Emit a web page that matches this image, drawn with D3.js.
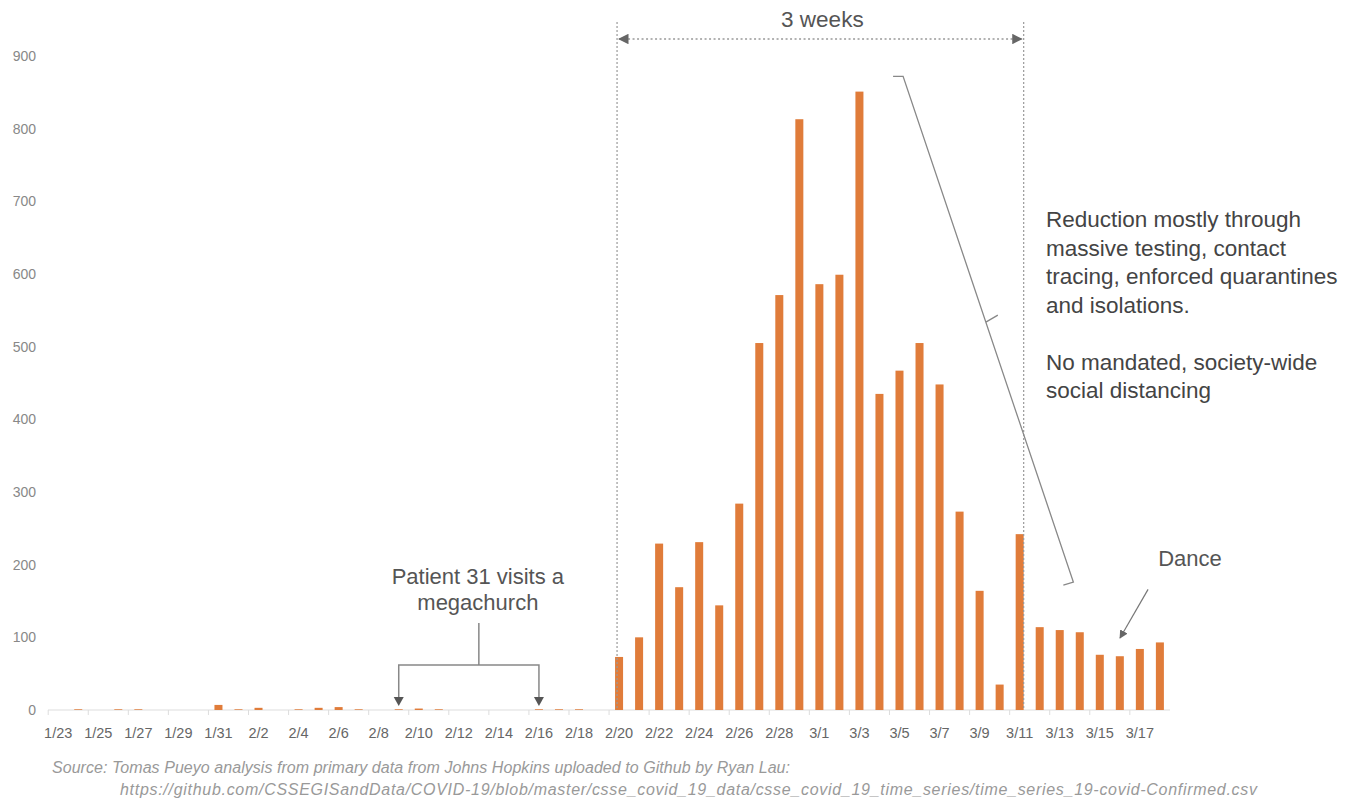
<!DOCTYPE html>
<html>
<head>
<meta charset="utf-8">
<script src="https://cdn.jsdelivr.net/npm/d3@7"></script>
<style>
  body { margin: 0; background: #fff; }
  svg text { font-family: "Liberation Sans", Arial, Helvetica, sans-serif; }
</style>
</head>
<body>
<div id="chart"></div>
<script>
// daily new confirmed cases, South Korea
const dates = ["1/23","1/24","1/25","1/26","1/27","1/28","1/29","1/30","1/31",
  "2/1","2/2","2/3","2/4","2/5","2/6","2/7","2/8","2/9","2/10","2/11","2/12","2/13","2/14",
  "2/15","2/16","2/17","2/18","2/19","2/20","2/21","2/22","2/23","2/24","2/25","2/26","2/27",
  "2/28","2/29","3/1","3/2","3/3","3/4","3/5","3/6","3/7","3/8","3/9","3/10","3/11","3/12",
  "3/13","3/14","3/15","3/16","3/17","3/18"];
const newCases = [0,1,0,1,1,0,0,0,7,
  1,3,0,1,3,4,1,0,1,2,1,0,0,0,
  0,1,1,1,0,73,100,229,169,231,144,284,505,
  571,813,586,599,851,435,467,505,448,273,164,35,242,114,
  110,107,76,74,84,93];
const yTicks = [0,100,200,300,400,500,600,700,800,900];
const tickDates = ["1/23","1/25","1/27","1/29","1/31","2/2","2/4","2/6","2/8","2/10","2/12",
  "2/14","2/16","2/18","2/20","2/22","2/24","2/26","2/28","3/1","3/3","3/5","3/7","3/9",
  "3/11","3/13","3/15","3/17"];
const noteLines = ["Reduction mostly through","massive testing, contact",
  "tracing, enforced quarantines","and isolations.","",
  "No mandated, society-wide","social distancing"];
const sourceLines = ["Source: Tomas Pueyo analysis from primary data from Johns Hopkins uploaded to Github by Ryan Lau:",
  "https://github.com/CSSEGISandData/COVID-19/blob/master/csse_covid_19_data/csse_covid_19_time_series/time_series_19-covid-Confirmed.csv"];

const width = 1357, height = 798;
const barColor = "#E07C3A";

const svg = d3.select("#chart").append("svg")
  .attr("width", width).attr("height", height);

const x = d3.scaleBand().domain(dates).range([48.2, 1169.9])
  .paddingInner(0.6).paddingOuter(0.3);
const y = d3.scaleLinear().domain([0, 900]).range([710, 56]);
const bw = x.bandwidth(), step = x.step();
const xc = d => x(d) + bw / 2;
// fractional day position for annotations
const dayX = d3.scaleLinear().domain([0, dates.length - 1])
  .range([xc(dates[0]), xc(dates[dates.length - 1])]);

const defs = svg.append("defs");
defs.append("marker").attr("id", "tri")
  .attr("viewBox", "0 0 10 10").attr("refX", 9).attr("refY", 5)
  .attr("markerWidth", 7).attr("markerHeight", 7)
  .attr("orient", "auto-start-reverse")
  .append("path").attr("d", "M0,0 L10,5 L0,10 Z").attr("fill", "#666");

// y labels
svg.append("g").selectAll("text").data(yTicks).join("text")
  .attr("x", 36).attr("y", d => y(d)).attr("dy", "0.35em")
  .attr("text-anchor", "end").attr("font-size", 14).attr("fill", "#888")
  .text(d => d);

// x axis
svg.append("line").attr("x1", 48).attr("x2", 1170)
  .attr("y1", y(0)).attr("y2", y(0)).attr("stroke", "#ddd");
svg.append("g").selectAll("line").data(tickDates).join("line")
  .attr("x1", d => xc(d) - step / 2).attr("x2", d => xc(d) - step / 2)
  .attr("y1", y(0)).attr("y2", y(0) + 5).attr("stroke", "#ddd");
svg.append("g").selectAll("text").data(tickDates).join("text")
  .attr("x", d => xc(d)).attr("y", 738)
  .attr("text-anchor", "middle").attr("font-size", 14.5).attr("fill", "#666")
  .text(d => d);

// bars
svg.append("g").selectAll("rect").data(dates).join("rect")
  .attr("x", d => x(d)).attr("width", bw)
  .attr("y", (d, i) => y(newCases[i]))
  .attr("height", (d, i) => y(0) - y(newCases[i]))
  .attr("fill", barColor);

// 3 weeks bracket
const gray = "#999";
const xl = x("2/20") + 2, xr = x("3/11") + bw;
[xl, xr].forEach(xx => svg.append("line")
  .attr("x1", xx).attr("x2", xx).attr("y1", 22).attr("y2", y(0))
  .attr("stroke", gray).attr("stroke-width", 1.2).attr("stroke-dasharray", "2,2"));
svg.append("line").attr("x1", xl + 2).attr("x2", xr - 2).attr("y1", 39).attr("y2", 39)
  .attr("stroke", gray).attr("stroke-width", 1.5).attr("stroke-dasharray", "2,2.5")
  .attr("marker-start", "url(#tri)").attr("marker-end", "url(#tri)");
svg.append("text").attr("x", (xl + xr) / 2 + 2).attr("y", 27)
  .attr("text-anchor", "middle").attr("font-size", 22.5).attr("fill", "#555")
  .text("3 weeks");

// Patient 31 annotation
const pa = xc("2/9"), pb = xc("2/16"), pm = dayX(21);
svg.append("text").attr("text-anchor", "middle").attr("font-size", 22).attr("fill", "#555")
  .selectAll("tspan").data(["Patient 31 visits a", "megachurch"]).join("tspan")
  .attr("x", pm - 1).attr("y", (d, i) => 584 + i * 26).text(d => d);
svg.append("path")
  .attr("d", `M${pm},623 V665 M${pa},697 V665 H${pb} V697`)
  .attr("fill", "none").attr("stroke", "#888").attr("stroke-width", 1.5);
[pa, pb].forEach(px => svg.append("path")
  .attr("d", `M${px - 5},697 L${px + 5},697 L${px},706 Z`).attr("fill", "#555"));

// brace along the decline
const b1 = [dayX(41.68), y(872)], b2 = [dayX(42.18), y(872)];
const b3 = [dayX(50.68), y(176)], b4 = [dayX(50.18), y(172)];
const bm = [b2[0] + (b3[0] - b2[0]) * 0.486, b2[1] + (b3[1] - b2[1]) * 0.486];
svg.append("path")
  .attr("d", `M${b1} L${b2} L${b3} L${b4} M${bm} L${bm[0] + 12},${bm[1] - 7}`)
  .attr("fill", "none").attr("stroke", "#888").attr("stroke-width", 1.3);

// right side note
svg.append("text").attr("font-size", 22.5).attr("fill", "#444")
  .selectAll("tspan").data(noteLines).join("tspan")
  .attr("x", 1046).attr("y", (d, i) => 227 + i * 28.5).text(d => d);

// Dance
svg.append("text").attr("x", dayX(56.5)).attr("y", 566)
  .attr("text-anchor", "middle").attr("font-size", 22).attr("fill", "#555").text("Dance");
svg.append("line")
  .attr("x1", dayX(54.41)).attr("y1", y(166)).attr("x2", dayX(53.01)).attr("y2", y(99))
  .attr("stroke", "#777").attr("stroke-width", 1.2).attr("marker-end", "url(#tri)");

// source
svg.append("g").attr("font-size", 16).attr("font-style", "italic").attr("fill", "#999")
  .selectAll("text").data(sourceLines).join("text")
  .attr("x", (d, i) => i ? 120 : 52).attr("y", (d, i) => 773 + i * 22)
  .attr("textLength", (d, i) => i ? 1137 : 738).attr("lengthAdjust", "spacing")
  .text(d => d);
</script>
</body>
</html>
